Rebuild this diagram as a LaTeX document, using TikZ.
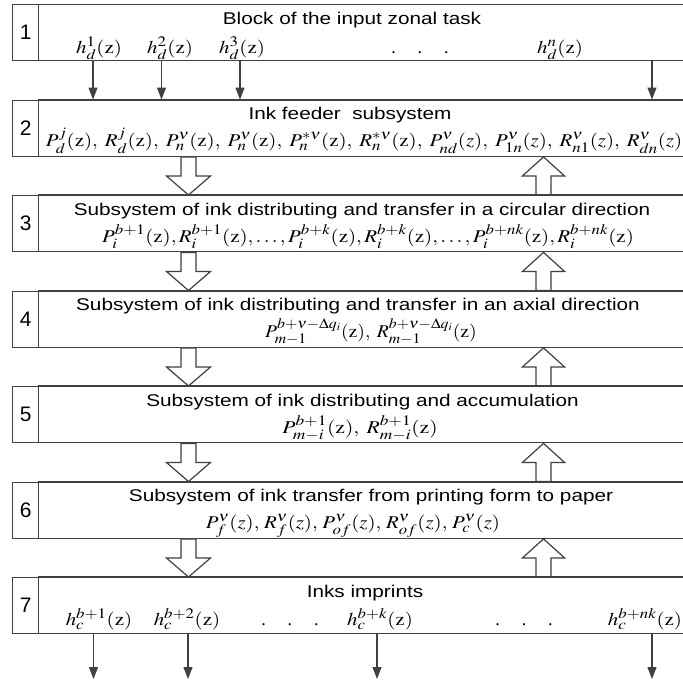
\documentclass[tikz,border=0pt]{standalone}
\usepackage{mathptmx}
\usepackage[no-math]{fontspec}
\usepackage{graphicx}
\setmainfont{Liberation Serif}
\newfontfamily\arialf{Liberation Sans}
\DeclareMathSizes{18}{18}{14.5}{10.5}
\usetikzlibrary{arrows.meta,calc}
\definecolor{lc}{HTML}{404040}
\newcommand{\hsc}[1]{\scalebox{1.22}[1]{#1}}
\newcommand{\msc}[1]{\scalebox{1.16}[1]{#1}}
\newcommand{\mz}{\mathrm{z}}
\newcommand{\blockdown}[2]{%
  \path (#1.south -| dx) coordinate (s) (#2.north -| dx) coordinate (e);
  \draw[hollow] ($(s)+(-7.5,0)$) -- ($(e)+(-7.5,-19)$) -- ($(e)+(-22,-19)$) -- (e)
     -- ($(e)+(22,-19)$) -- ($(e)+(7.5,-19)$) -- ($(s)+(7.5,0)$) -- cycle;}
\newcommand{\blockup}[2]{%
  \path (#1.south -| ux) coordinate (s) (#2.north -| ux) coordinate (e);
  \draw[hollow] ($(e)+(-7.5,0)$) -- ($(s)+(-7.5,19)$) -- ($(s)+(-21,19)$) -- (s)
     -- ($(s)+(21,19)$) -- ($(s)+(7.5,19)$) -- ($(e)+(7.5,0)$) -- cycle;}
\tikzset{
  numbox/.style={draw=lc, line width=1.4pt, minimum width=26pt, minimum height=56pt,
    anchor=north west, inner sep=0pt, font=\arialf\fontsize{21}{23}\selectfont},
  mainbox/.style={draw=lc, line width=1.4pt, minimum width=660pt, minimum height=56pt,
    anchor=north west, inner sep=0pt},
  ttl/.style={anchor=base, inner sep=0pt, font=\arialf\fontsize{17}{19}\selectfont},
  fml/.style={anchor=base, inner sep=0pt, font=\fontsize{18}{20}\selectfont},
  thinarrow/.style={draw=lc, line width=1.2pt, -{Triangle[length=12pt,width=9pt]}},
  hollow/.style={draw=lc, line width=1.2pt, fill=white},
}
\begin{document}
\begin{tikzpicture}[x=1pt,y=-1pt]
\useasboundingbox (0,0) rectangle (683,683);
\clip (0,0) rectangle (683,683);
\coordinate (dx) at (188.5,0);
\coordinate (ux) at (543.5,0);
% boxes
\foreach \k in {1,...,7}{
  \pgfmathsetmacro{\tp}{4+(\k-1)*95.5}
  \node[numbox] (n\k) at (12,\tp) {\k};
  \node[mainbox] (b\k) at (38,\tp) {};
}
% block arrows
\blockdown{b2}{b3}\blockup{b2}{b3}
\blockdown{b3}{b4}\blockup{b3}{b4}
\blockdown{b4}{b5}\blockup{b4}{b5}
\blockdown{b5}{b6}\blockup{b5}{b6}
\blockdown{b6}{b7}\blockup{b6}{b7}
\foreach \k in {2,...,7}{
  \pgfmathsetmacro{\tp}{4+(\k-1)*95.5}
  \draw[draw=lc, line width=1.4pt] (38,\tp) -- (700,\tp);
}
% box 1
\node[ttl] (t1) at (352,24) {\hsc{Block of the input zonal task}};
\node[fml] (h1) at (99,53) {\msc{$h_d^1(\mz)$}};
\node[fml] (h2) at (170,53) {\msc{$h_d^2(\mz)$}};
\node[fml] (h3) at (242,53) {\msc{$h_d^3(\mz)$}};
\node[fml] (hd) at (420,53) {.\hspace{22pt}.\hspace{22pt}.};
\node[fml] (hn) at (560,53) {\msc{$h_d^n(\mz)$}};
% box 2
\node[ttl] (t2) at (350,119.5) {\hsc{Ink feeder\ \ subsystem}};
\node[fml] (f2) at (364,146.5) {\msc{$P_d^j(\mz),\; R_d^j(\mz),\; P_n^\nu(\mz),\; P_n^\nu(\mz),\; P_n^{*\nu}(\mz),\; R_n^{*\nu}(\mz),\; P_{nd}^\nu(z),\; P_{1n}^\nu(z),\; R_{n1}^\nu(z),\; R_{dn}^\nu(z)$}};
% box 3
\node[ttl] (t3) at (362,215) {\hsc{Subsystem of ink distributing and transfer in a circular direction}};
\node[fml] (f3) at (368,242) {\msc{$P_i^{b+1}(\mz), R_i^{b+1}(\mz),\ldots, P_i^{b+k}(\mz), R_i^{b+k}(\mz),\ldots, P_i^{b+nk}(\mz), R_i^{b+nk}(\mz)$}};
% box 4
\node[ttl] (t4) at (358,310.5) {\hsc{Subsystem of ink distributing and transfer in an axial direction}};
\node[fml] (f4) at (371,337.5) {\scalebox{1.09}[1]{$P_{m-1}^{b+\nu-\Delta q_i}(\mz),\; R_{m-1}^{b+\nu-\Delta q_i}(\mz)$}};
% box 5
\node[ttl] (t5) at (362.5,406) {\hsc{Subsystem of ink distributing and accumulation}};
\node[fml] (f5) at (360,433) {\scalebox{1.2}[1]{$P_{m-i}^{b+1}(\mz),\; R_{m-i}^{b+1}(\mz)$}};
% box 6
\node[ttl] (t6) at (371,501.5) {\hsc{Subsystem of ink transfer from printing form to paper}};
\node[fml] (f6) at (353,528.5) {\msc{$P_f^\nu(z),\, R_f^\nu(z),\, P_{of}^\nu(z),\, R_{of}^\nu(z),\, P_c^\nu(z)$}};
% box 7
\node[ttl] (t7) at (365,597) {\hsc{Inks imprints}};
\node[fml] (c1) at (99,625) {\msc{$h_c^{b+1}(\mz)$}};
\node[fml] (c2) at (187,625) {\msc{$h_c^{b+2}(\mz)$}};
\node[fml] (cd1) at (290,625) {.\hspace{22pt}.\hspace{22pt}.};
\node[fml] (ck) at (380,625) {\msc{$h_c^{b+k}(\mz)$}};
\node[fml] (cd2) at (524,625) {.\hspace{22pt}.\hspace{22pt}.};
\node[fml] (cn) at (645,625) {\msc{$h_c^{b+nk}(\mz)$}};
% thin arrows 1 -> 2
\foreach \x [count=\i] in {93,161.5,240,652}{
  \coordinate (a\i) at (\x,0);
  \draw[thinarrow] (b1.south -| a\i) -- (b2.north -| a\i);
}
% output arrows from 7
\foreach \x [count=\i] in {93.5,188,377,652}{
  \coordinate (o\i) at (\x,0);
  \coordinate (oe\i) at (\x,679);
  \draw[thinarrow] (b7.south -| o\i) -- (oe\i);
}
\end{tikzpicture}
\end{document}
